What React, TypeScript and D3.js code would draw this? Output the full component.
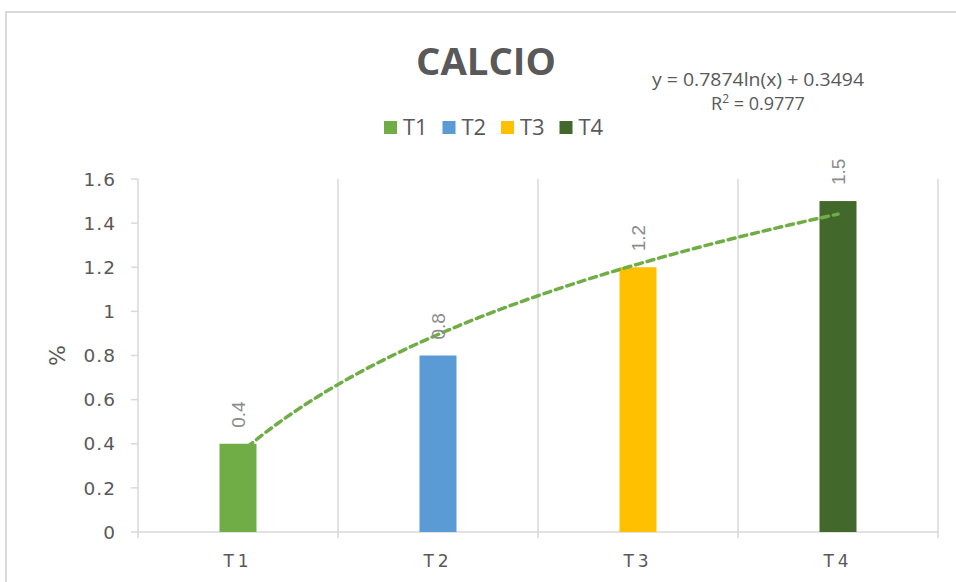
import React from "react";
import * as d3 from "d3";

const categories = ["T1", "T2", "T3", "T4"];
const values = [0.4, 0.8, 1.2, 1.5];
const colors = ["#70AD47", "#5B9BD5", "#FFC000", "#43682B"];
const yTicks = [0, 0.2, 0.4, 0.6, 0.8, 1, 1.2, 1.4, 1.6];
const title = "CALCIO";
const yTitle = "%";

const W = 956;
const H = 582;
const plot = { left: 138, right: 938, top: 179, bottom: 532 };

export default function App() {
  const x = d3.scaleBand<string>().domain(categories).range([plot.left, plot.right]).padding(0);
  const y = d3.scaleLinear().domain([0, 1.6]).range([plot.bottom, plot.top]);
  const bw = x.bandwidth();
  const barW = bw * 0.185;

  // logarithmic trendline fitted from the data
  const lx = values.map((_, i) => Math.log(i + 1));
  const mx = d3.mean(lx)!;
  const my = d3.mean(values)!;
  const sxy = d3.sum(lx.map((v, i) => (v - mx) * (values[i] - my)));
  const sxx = d3.sum(lx.map((v) => (v - mx) * (v - mx)));
  const slope = sxy / sxx;
  const intercept = my - slope * mx;
  const pred = lx.map((v) => slope * v + intercept);
  const ssRes = d3.sum(values.map((v, i) => (v - pred[i]) ** 2));
  const ssTot = d3.sum(values.map((v) => (v - my) ** 2));
  const r2 = 1 - ssRes / ssTot;

  const xNum = d3
    .scaleLinear()
    .domain([1, categories.length])
    .range([x(categories[0])! + bw / 2, x(categories[categories.length - 1])! + bw / 2]);
  const trendPts = d3.range(1, categories.length + 0.001, 0.05).map((t) => [t, slope * Math.log(t) + intercept] as [number, number]);
  const line = d3
    .line<[number, number]>()
    .x((d) => xNum(d[0]))
    .y((d) => y(d[1]))
    .curve(d3.curveMonotoneX);

  const grid = "#d9d9d9";
  const txt = "#595959";
  const font = "'Open Sans', 'DejaVu Sans', sans-serif";

  const legendX0 = 384;
  const legendStep = 58.5;

  return (
    <svg width={W} height={H} style={{ position: "absolute", left: 0, top: 0, background: "#fff" }}>
      <rect x={6} y={12} width={1000} height={1000} fill="#fff" stroke={grid} strokeWidth={2} />

      {/* title */}
      <text x={486} y={75} textAnchor="middle" fontFamily={font} fontWeight="bold" fontSize={37} fill={txt} textLength={140} lengthAdjust="spacingAndGlyphs">
        {title}
      </text>

      {/* trend equation */}
      <text x={758} y={86} textAnchor="middle" fontFamily={font} fontSize={18} fill={txt} textLength={212} lengthAdjust="spacingAndGlyphs">
        {`y = ${slope.toFixed(4)}ln(x) + ${intercept.toFixed(4)}`}
      </text>
      <text x={758} y={110} textAnchor="middle" fontFamily={font} fontSize={18} fill={txt}>
        R<tspan dy={-7} fontSize={12}>2</tspan>
        <tspan dy={7}>{` = ${r2.toFixed(4)}`}</tspan>
      </text>

      {/* legend */}
      {categories.map((c, i) => (
        <g key={c} transform={`translate(${legendX0 + i * legendStep},0)`}>
          <rect x={0} y={121} width={13} height={13} fill={colors[i]} />
          <text x={19} y={134.5} fontFamily={font} fontSize={22} fill={txt}>
            {c}
          </text>
        </g>
      ))}

      {/* vertical gridlines */}
      {categories.map((c) => (
        <line key={c} x1={x(c)! + bw} x2={x(c)! + bw} y1={plot.top} y2={plot.bottom + 6} stroke={grid} strokeWidth={1.5} />
      ))}
      <line x1={plot.left} x2={plot.left} y1={plot.top} y2={plot.bottom + 6} stroke={grid} strokeWidth={1.5} />
      <line x1={plot.left} x2={plot.right} y1={plot.bottom} y2={plot.bottom} stroke={grid} strokeWidth={1.5} />

      {/* y ticks */}
      {yTicks.map((t) => (
        <g key={t}>
          <line x1={plot.left - 7} x2={plot.left} y1={y(t)} y2={y(t)} stroke={grid} strokeWidth={1.5} />
          <text x={116} y={y(t)} dy="0.36em" textAnchor="end" fontFamily="'DejaVu Sans', sans-serif" fontSize={18.5} fill={txt} letterSpacing={1}>
            {String(t)}
          </text>
        </g>
      ))}
      <text transform={`translate(65,${(plot.top + plot.bottom) / 2}) rotate(-90)`} textAnchor="middle" fontFamily="'DejaVu Sans', sans-serif" fontSize={22} fill={txt}>
        {yTitle}
      </text>

      {/* bars */}
      {categories.map((c, i) => (
        <rect key={c} x={x(c)! + (bw - barW) / 2} y={y(values[i])} width={barW} height={y(0) - y(values[i])} fill={colors[i]} />
      ))}

      {/* x labels */}
      {categories.map((c) => (
        <text key={c} x={x(c)! + bw / 2} y={567} textAnchor="middle" fontFamily="'DejaVu Sans', sans-serif" fontSize={17} fill={txt} letterSpacing={4}>
          {c}
        </text>
      ))}

      {/* trendline */}
      <path d={line(trendPts)!} fill="none" stroke="#70AD47" strokeWidth={3.5} strokeDasharray="7 5" strokeLinecap="round" />

      {/* data labels */}
      {categories.map((c, i) => (
        <text
          key={c}
          transform={`translate(${x(c)! + bw / 2},${y(values[i]) - 16}) rotate(-90)`}
          dy="0.36em"
          textAnchor="start"
          fontFamily="'Liberation Sans', Arial, sans-serif"
          fontSize={19}
          fill="#8c8c8c"
        >
          {String(values[i])}
        </text>
      ))}
    </svg>
  );
}
